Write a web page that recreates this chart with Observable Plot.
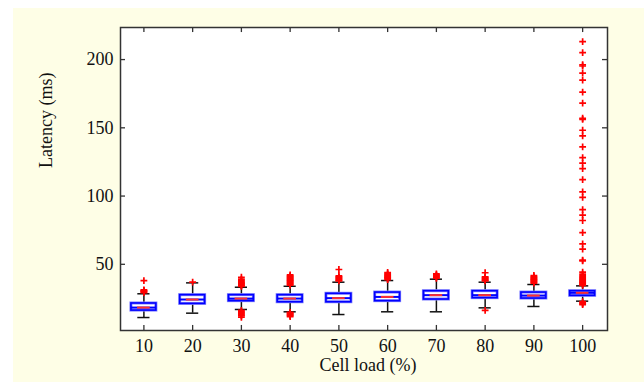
<!DOCTYPE html>
<html><head><meta charset="utf-8">
<script src="https://cdn.jsdelivr.net/npm/d3@7"></script>
<script src="https://cdn.jsdelivr.net/npm/@observablehq/plot@0.6"></script>
<style>
html,body{margin:0;padding:0;background:#fff;}
#wrap{position:relative;width:644px;height:383px;overflow:hidden;}
#bg{position:absolute;left:13px;top:8px;width:631px;height:374px;background:#fefee6;}
#chart{position:absolute;left:0;top:0;}
</style></head><body>
<div id="wrap"><div id="bg"></div><div id="chart"></div></div>
<script>
// Cell load categories (%)
const loads   = [10, 20, 30, 40, 50, 60, 70, 80, 90, 100];
// Box statistics (ms)
const whiskLo = [11.0, 14.2, 16.9, 15.2, 13.2, 15.2, 15.2, 18.1, 19.1, 23.0];
const q1      = [16.1, 21.0, 23.0, 22.2, 22.2, 23.0, 24.2, 25.2, 24.9, 26.9];
const med     = [18.3, 24.2, 24.9, 24.9, 25.2, 26.1, 27.4, 27.4, 27.1, 29.1];
const q3      = [21.3, 27.4, 27.4, 27.4, 28.4, 29.3, 30.3, 30.3, 29.3, 30.3];
const whiskHi = [28.4, 36.4, 33.2, 33.9, 36.9, 38.1, 39.1, 36.9, 35.2, 34.2];
// Outliers (ms)
const out10  = [29.2, 29.8, 30.3, 30.8, 31.3, 38.1];
const out20  = [37.0];
const out30  = [33.8, 34.4, 35.0, 35.6, 36.2, 36.8, 37.5, 38.3, 39.2, 40.5,
                16.2, 15.4, 14.6, 13.8, 13.0, 12.2, 11.2];
const out40  = [34.8, 35.4, 36.0, 36.6, 37.2, 37.8, 38.4, 39.0, 39.6, 40.2, 40.8, 41.5, 42.2,
                14.8, 14.2, 13.6, 13.0, 12.4, 11.6];
const out50  = [37.8, 38.4, 39.0, 39.6, 40.2, 40.8, 41.5, 46.2];
const out60  = [38.8, 39.4, 40.0, 40.6, 41.2, 41.8, 42.5, 43.2, 44.0];
const out70  = [39.8, 40.4, 41.0, 41.6, 42.2, 43.0];
const out80  = [37.8, 38.4, 39.0, 39.6, 40.2, 40.8, 43.8, 16.2];
const out90  = [36.2, 36.8, 37.4, 38.0, 38.6, 39.2, 39.8, 40.4, 41.0, 41.8];
const out100 = [34.6, 35.2, 35.8, 36.4, 37.0, 37.6, 38.2, 38.8, 39.5, 40.2, 41.0, 41.8, 42.8, 44.2,
                52.5, 53.0, 61.1, 65.0, 73.2, 82.1, 86.0, 90.1, 99.1, 103.1, 112.0, 120.1, 124.2,
                128.2, 136.0, 144.1, 148.2, 156.2, 157.0, 168.1, 176.1, 184.9, 190.1, 195.3, 196.2,
                205.1, 213.1, 22.6, 21.8, 21.0, 20.4];
const outliersByLoad = [out10, out20, out30, out40, out50, out60, out70, out80, out90, out100];
// Tick labels
const xTicks = [10, 20, 30, 40, 50, 60, 70, 80, 90, 100];
const yTicks = [50, 100, 150, 200];

const boxes = loads.map((l, i) => ({load: l, lo: whiskLo[i], q1: q1[i], med: med[i], q3: q3[i], hi: whiskHi[i]}));
const outliers = loads.flatMap((l, i) => outliersByLoad[i].map(v => ({load: l, v})));

const xDom = [5.2, 105.1], yDom = [1.5, 223.5];
const boxHW = 2.56, capHW = 1.25, redHW = 1.3;
const yTickLen = 3.7, xTickLen = 1.03;

const thinPlus = {draw(ctx, size) { const r = Math.sqrt(size / Math.PI); ctx.moveTo(-r, 0); ctx.lineTo(r, 0); ctx.moveTo(0, -r); ctx.lineTo(0, r); }};

const chart = Plot.plot({
  width: 644, height: 383,
  marginLeft: 120, marginRight: 37, marginTop: 27, marginBottom: 53,
  style: {background: "transparent", fontFamily: "'Liberation Serif','Times New Roman',serif", fontSize: "18px", color: "#111"},
  x: {type: "linear", domain: xDom, ticks: xTicks, tickSize: 0, tickPadding: 9, label: null, tickFormat: d => String(d)},
  y: {type: "linear", domain: yDom, ticks: yTicks, tickSize: 0, tickPadding: 7, label: null, tickFormat: d => String(d)},
  marks: [
    Plot.frame({fill: "white"}),
    // whiskers
    Plot.ruleX(boxes, {x: "load", y1: "q3", y2: "hi", stroke: "#111", strokeWidth: 1.5}),
    Plot.ruleX(boxes, {x: "load", y1: "lo", y2: "q1", stroke: "#111", strokeWidth: 1.5}),
    Plot.ruleY(boxes, {y: "hi", x1: d => d.load - capHW, x2: d => d.load + capHW, stroke: "#111", strokeWidth: 1.5}),
    Plot.ruleY(boxes, {y: "lo", x1: d => d.load - capHW, x2: d => d.load + capHW, stroke: "#111", strokeWidth: 1.5}),
    // boxes
    Plot.rect(boxes, {x1: d => d.load - boxHW, x2: d => d.load + boxHW, y1: "q1", y2: "q3", fill: "white", stroke: "#8080ff", strokeWidth: 3}),
    Plot.rect(boxes, {x1: d => d.load - boxHW, x2: d => d.load + boxHW, y1: "q1", y2: "q3", fill: "none", stroke: "#0000ff", strokeWidth: 1.6}),
    Plot.ruleY(boxes, {y: "med", x1: d => d.load - boxHW, x2: d => d.load + boxHW, stroke: "#0000ff", strokeWidth: 2}),
    Plot.ruleY(boxes, {y: "med", x1: d => d.load - redHW, x2: d => d.load + redHW, stroke: "#ff3030", strokeWidth: 2}),
    // outliers
    Plot.dot(outliers, {x: "load", y: "v", symbol: thinPlus, r: 3.4, stroke: "#ff0000", strokeWidth: 1.7, fill: "none"}),
    // inward ticks
    Plot.ruleX(xTicks, {x: d => d, y1: yDom[0], y2: yDom[0] + yTickLen, stroke: "#333", strokeWidth: 1.3}),
    Plot.ruleX(xTicks, {x: d => d, y1: yDom[1], y2: yDom[1] - yTickLen, stroke: "#333", strokeWidth: 1.3}),
    Plot.ruleY(yTicks, {y: d => d, x1: xDom[0], x2: xDom[0] + xTickLen, stroke: "#333", strokeWidth: 1.3}),
    Plot.ruleY(yTicks, {y: d => d, x1: xDom[1], x2: xDom[1] - xTickLen, stroke: "#333", strokeWidth: 1.3}),
    Plot.frame({stroke: "#333", strokeWidth: 1.5}),
    // axis titles
    Plot.text(["Latency (ms)"], {text: d => d, frameAnchor: "left", rotate: -90, dx: -74, dy: -11, fontSize: 18, fill: "#111"}),
    Plot.text(["Cell load (%)"], {text: d => d, frameAnchor: "bottom", dx: 4, dy: 40, fontSize: 18, fill: "#111"})
  ]
});
document.getElementById("chart").appendChild(chart);
</script>
</body></html>
